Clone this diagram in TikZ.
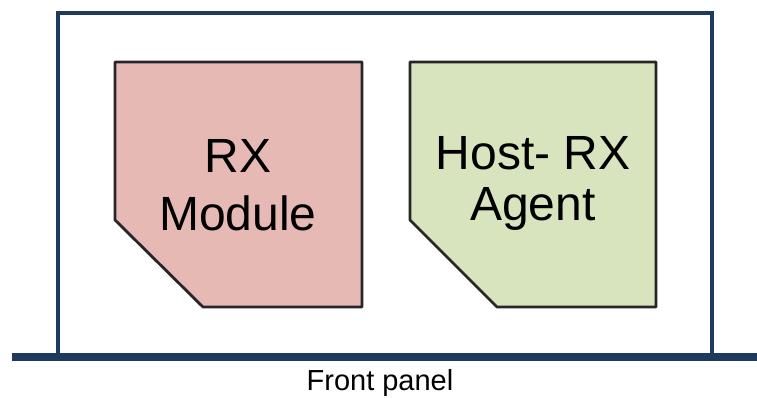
\documentclass[tikz,border=0pt]{standalone}
\usepackage{fontspec}
\setmainfont{Liberation Sans}
\definecolor{panelblue}{HTML}{1F3A60}
\definecolor{rxpink}{HTML}{E6B9B5}
\definecolor{agentgreen}{HTML}{D8E4BE}
\tikzset{
	modshape/.style={draw=black!85, line width=2.8pt, line join=round},
	modtext/.style={anchor=base, font=\fontsize{48}{52}\selectfont, inner sep=0pt},
}
\begin{document}
\begin{tikzpicture}[x=1pt,y=-1pt]
		%Canvas
		\useasboundingbox (0,0) rectangle (757,398);
		\fill[white] (0,0) rectangle (757,398);
		%Outer hull of the chassis
		\coordinate (hullBL) at (58,356);
		\coordinate (hullTL) at (58,13);
		\coordinate (hullTR) at (712,13);
		\coordinate (hullBR) at (712,356);
		\draw[panelblue, line width=4pt, line join=miter] (hullBL) -- (hullTL) -- (hullTR) -- (hullBR);
		%Front panel line
		\coordinate (panelL) at (12,357);
		\coordinate (panelR) at (757,357);
		\draw[panelblue, line width=8pt] (panelL) -- (panelR);
		\node [anchor=base, font=\fontsize{29}{32}\selectfont, inner sep=0pt] (front) at (380,390) {Front panel};
		%RX module
		\coordinate (rxTL) at (115,62);
		\coordinate (rxTR) at (362,62);
		\coordinate (rxBR) at (362,307);
		\coordinate (rxBC) at (203,307);
		\coordinate (rxLC) at (115,220);
		\draw[modshape, fill=rxpink] (rxTL) -- (rxTR) -- (rxBR) -- (rxBC) -- (rxLC) -- cycle;
		\node [modtext] (rx1) at (238,172) {RX};
		\node [modtext] (rx2) at (238,230) {Module};
		%Host-RX agent
		\coordinate (agTL) at (410,62);
		\coordinate (agTR) at (656,62);
		\coordinate (agBR) at (656,307);
		\coordinate (agBC) at (497,307);
		\coordinate (agLC) at (410,220);
		\draw[modshape, fill=agentgreen] (agTL) -- (agTR) -- (agBR) -- (agBC) -- (agLC) -- cycle;
		\node [modtext] (ag1) at (533,170) {Host- RX};
		\node [modtext] (ag2) at (533,220) {Agent};
\end{tikzpicture}
\end{document}
